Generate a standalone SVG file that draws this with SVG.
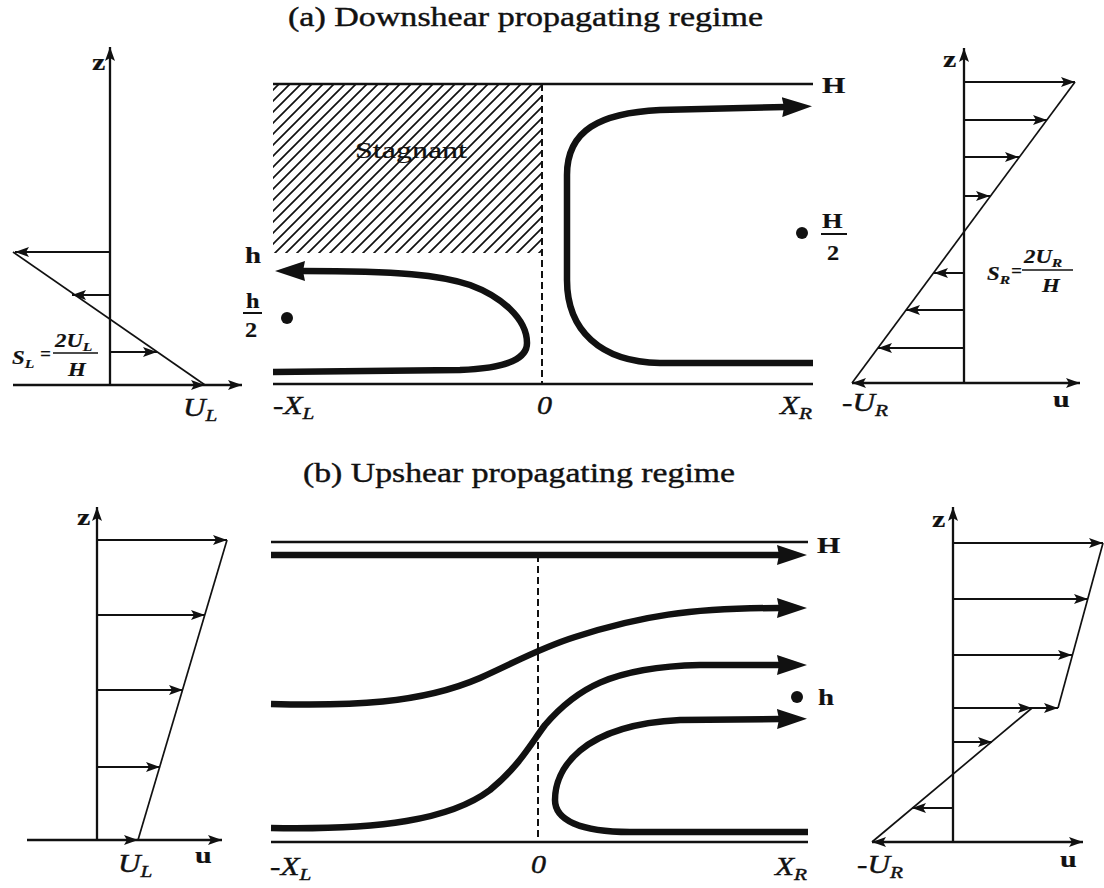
<svg xmlns="http://www.w3.org/2000/svg" width="1104" height="888" viewBox="0 0 1104 888">
<style>
 .ln{stroke:#111;stroke-width:2.4;fill:none}
 .sl{stroke:#111;stroke-width:1.7;fill:none}
 .ar{stroke:#111;stroke-width:2;fill:none;marker-end:url(#a)}
 .ax{stroke:#111;stroke-width:2.3;fill:none;marker-end:url(#a)}
 .thick{stroke:#111;stroke-width:6.5;fill:none;marker-end:url(#A)}
 .dash{stroke:#111;stroke-width:2;stroke-dasharray:7 4;fill:none}
 text{font-family:"Liberation Serif","Times New Roman",serif;fill:#111;stroke:#111;stroke-width:0.4}
 .title{font-size:27px}
 .b{font-size:24px;font-weight:bold;stroke-width:0.2}
 .it{font-size:25px;font-style:italic}
 .sub{font-size:17px}
 .f{font-size:19px;font-style:italic;font-weight:bold;stroke-width:0.2}
 .fs{font-size:13px}
</style>
<defs>
 <marker id="a" markerUnits="userSpaceOnUse" viewBox="0 0 14 10" markerWidth="14" markerHeight="10" refX="14" refY="5" orient="auto">
  <path d="M0,0 L14,5 L0,10 L3,5 z" fill="#111"/>
 </marker>
 <marker id="A" markerUnits="userSpaceOnUse" viewBox="0 0 30 20" markerWidth="30" markerHeight="20" refX="3" refY="10" orient="auto">
  <path d="M0,0 L30,10 L0,20 L2,10 z" fill="#111"/>
 </marker>
 <pattern id="hatch" patternUnits="userSpaceOnUse" width="11" height="11">
  <path d="M-1,1 L1,-1 M0,11 L11,0 M10,12 L12,10" stroke="#111" stroke-width="1.7"/>
 </pattern>
</defs>
<rect width="1104" height="888" fill="#fff"/>

<g id="title-a"><text class="title" x="288" y="26" textLength="475" lengthAdjust="spacingAndGlyphs">(a) Downshear propagating regime</text></g>
<g id="title-b"><text class="title" x="303" y="482" textLength="432" lengthAdjust="spacingAndGlyphs" style="font-size:28px">(b) Upshear propagating regime</text></g>

<!-- (a) left profile -->
<g id="profile-a-left">
 <path class="ax" d="M110,385 L110,47"/>
 <path class="ax" d="M13,385 L242,385"/>
 <path class="ar" d="M110,385 L205,385"/>
 <path class="sl" d="M13,252 L205,385"/>
 <path class="ar" d="M110,252 L15,252"/>
 <path class="ar" d="M110,295 L72,295"/>
 <path class="ar" d="M110,352 L157,352"/>
 <text class="b" transform="translate(92,70) scale(1.25,1)">z</text>
 <text class="f" transform="translate(12,364) scale(1.2,1)">S<tspan class="fs" dy="4">L</tspan></text>
 <text class="f" x="40" y="360">=</text>
 <text class="f" transform="translate(55,347) scale(1.2,1)">2U<tspan class="fs" dy="4">L</tspan></text>
 <line class="sl" x1="53" y1="353" x2="98" y2="353"/>
 <text class="f" transform="translate(68,376) scale(1.2,1)">H</text>
 <text class="it" transform="translate(183,416) scale(1.25,1)">U<tspan class="sub" dy="5">L</tspan></text>
</g>

<!-- (a) main panel -->
<g id="panel-a">
 <rect x="273" y="84" width="269" height="169" fill="url(#hatch)"/>
 <text x="355" y="158" style="font-size:23px;stroke-width:0.2" fill="#222" textLength="112" lengthAdjust="spacingAndGlyphs">Stagnant</text>
 <line class="ln" x1="273" y1="84" x2="813" y2="84"/>
 <line class="ln" x1="273" y1="384" x2="813" y2="384"/>
 <line class="dash" x1="542" y1="84" x2="542" y2="384"/>
 <circle cx="287" cy="318" r="6" fill="#111"/>
 <circle cx="802" cy="233" r="6" fill="#111"/>
 <text class="b" transform="translate(245,263) scale(1.2,1)">h</text>
 <text class="b" transform="translate(246,308) scale(1.1,1)" style="font-size:22px">h</text>
 <line class="ln" x1="243" y1="313" x2="262" y2="313" style="stroke-width:2"/>
 <text class="b" transform="translate(245,337) scale(1.1,1)" style="font-size:22px">2</text>
 <text class="b" transform="translate(822,93) scale(1.25,1)">H</text>
 <text class="b" transform="translate(822,228) scale(1.2,1)" style="font-size:22px">H</text>
 <line class="ln" x1="821" y1="234" x2="847" y2="234" style="stroke-width:2"/>
 <text class="b" transform="translate(827,260) scale(1.1,1)" style="font-size:22px">2</text>
 <text class="it" transform="translate(273,414) scale(1.25,1)">-X<tspan class="sub" dy="5">L</tspan></text>
 <text class="it" transform="translate(537,414) scale(1.2,1)">0</text>
 <text class="it" transform="translate(780,414) scale(1.25,1)">X<tspan class="sub" dy="5">R</tspan></text>
</g>

<!-- (a) right profile -->
<g id="profile-a-right">
 <path class="ax" d="M964,383 L964,48"/>
 <path class="ax" d="M964,383 L1080,383"/>
 <path class="ax" d="M964,383 L852,383"/>
 <path class="sl" d="M852,383 L1075,82"/>
 <path class="ar" d="M964,82 L1075,82"/>
 <path class="ar" d="M964,120 L1047,120"/>
 <path class="ar" d="M964,157 L1019,157"/>
 <path class="ar" d="M964,196 L990,196"/>
 <path class="ar" d="M964,273 L934,273"/>
 <path class="ar" d="M964,310 L906,310"/>
 <path class="ar" d="M964,348 L878,348"/>
 <text class="b" transform="translate(943,67) scale(1.25,1)">z</text>
 <text class="b" transform="translate(1053,407) scale(1.25,1)">u</text>
 <text class="it" transform="translate(842,411) scale(1.25,1)">-U<tspan class="sub" dy="5">R</tspan></text>
 <text class="f" transform="translate(987,280) scale(1.2,1)">S<tspan class="fs" dy="4">R</tspan></text>
 <text class="f" x="1011" y="277">=</text>
 <text class="f" transform="translate(1024,263) scale(1.2,1)">2U<tspan class="fs" dy="4">R</tspan></text>
 <line class="sl" x1="1022" y1="270" x2="1073" y2="270"/>
 <text class="f" transform="translate(1042,292) scale(1.2,1)">H</text>
</g>

<!-- (b) left profile -->
<g id="profile-b-left">
 <path class="ax" d="M97,840 L97,507"/>
 <path class="ax" d="M27,840 L222,840"/>
 <path class="ar" d="M97,840 L138,840"/>
 <path class="sl" d="M138,840 L227,540"/>
 <path class="ar" d="M97,540 L227,540"/>
 <path class="ar" d="M97,615 L205,615"/>
 <path class="ar" d="M97,690 L183,690"/>
 <path class="ar" d="M97,767 L160,767"/>
 <text class="b" transform="translate(77,525) scale(1.25,1)">z</text>
 <text class="b" transform="translate(195,863) scale(1.25,1)">u</text>
 <text class="it" transform="translate(118,872) scale(1.25,1)">U<tspan class="sub" dy="5">L</tspan></text>
</g>

<!-- (b) main panel -->
<g id="panel-b">
 <line class="ln" x1="271" y1="542" x2="808" y2="542"/>
 <line class="ln" x1="271" y1="842" x2="808" y2="842"/>
 <line class="dash" x1="538" y1="555" x2="538" y2="842"/>
 <circle cx="797" cy="697" r="6" fill="#111"/>
 <text class="b" transform="translate(817,553) scale(1.25,1)">H</text>
 <text class="b" transform="translate(818,705) scale(1.2,1)">h</text>
 <text class="it" transform="translate(270,875) scale(1.25,1)">-X<tspan class="sub" dy="5">L</tspan></text>
 <text class="it" transform="translate(531,873) scale(1.2,1)">0</text>
 <text class="it" transform="translate(775,875) scale(1.25,1)">X<tspan class="sub" dy="5">R</tspan></text>
</g>

<!-- (b) right profile -->
<g id="profile-b-right">
 <path class="ax" d="M953,842 L953,507"/>
 <path class="ax" d="M953,842 L1083,842"/>
 <path class="ax" d="M953,842 L872,842"/>
 <path class="sl" d="M872,842 L1032,708"/>
 <path class="sl" d="M1058,708 L1103,543"/>
 <path class="ar" d="M953,543 L1103,543"/>
 <path class="ar" d="M953,599 L1088,599"/>
 <path class="ar" d="M953,655 L1072,655"/>
 <path class="ar" d="M953,708 L1032,708 L1058,708" style="marker-mid:url(#a)"/>
 <path class="ar" d="M953,742 L992,742"/>
 <path class="ar" d="M953,808 L912,808"/>
 <text class="b" transform="translate(932,527) scale(1.25,1)">z</text>
 <text class="b" transform="translate(1060,867) scale(1.25,1)">u</text>
 <text class="it" transform="translate(857,873) scale(1.25,1)">-U<tspan class="sub" dy="5">R</tspan></text>
</g>

<!-- streamlines -->
<g id="connectors">
 <path class="thick" d="M273,372 L460,370 C510,368 527,358 527,343 C527,318 500,296 470,285 C440,275 400,271 302,271"/>
 <path class="thick" d="M813,363 L660,363 C600,362 567,330 567,280 L567,175 C567,130 600,113 660,110 L785,107"/>
 <path class="thick" d="M271,555 L780,555"/>
 <path class="thick" d="M271,704 C350,706 420,704 480,678 C520,660 540,648 575,637 C640,616 690,608 780,608"/>
 <path class="thick" d="M271,828 C380,830 450,820 490,790 C520,765 530,745 545,725 C575,690 610,667 700,665 L780,665"/>
 <path class="thick" d="M808,832 L630,832 C580,832 555,820 555,800 C555,770 580,725 680,720 L780,719"/>
</g>
</svg>
